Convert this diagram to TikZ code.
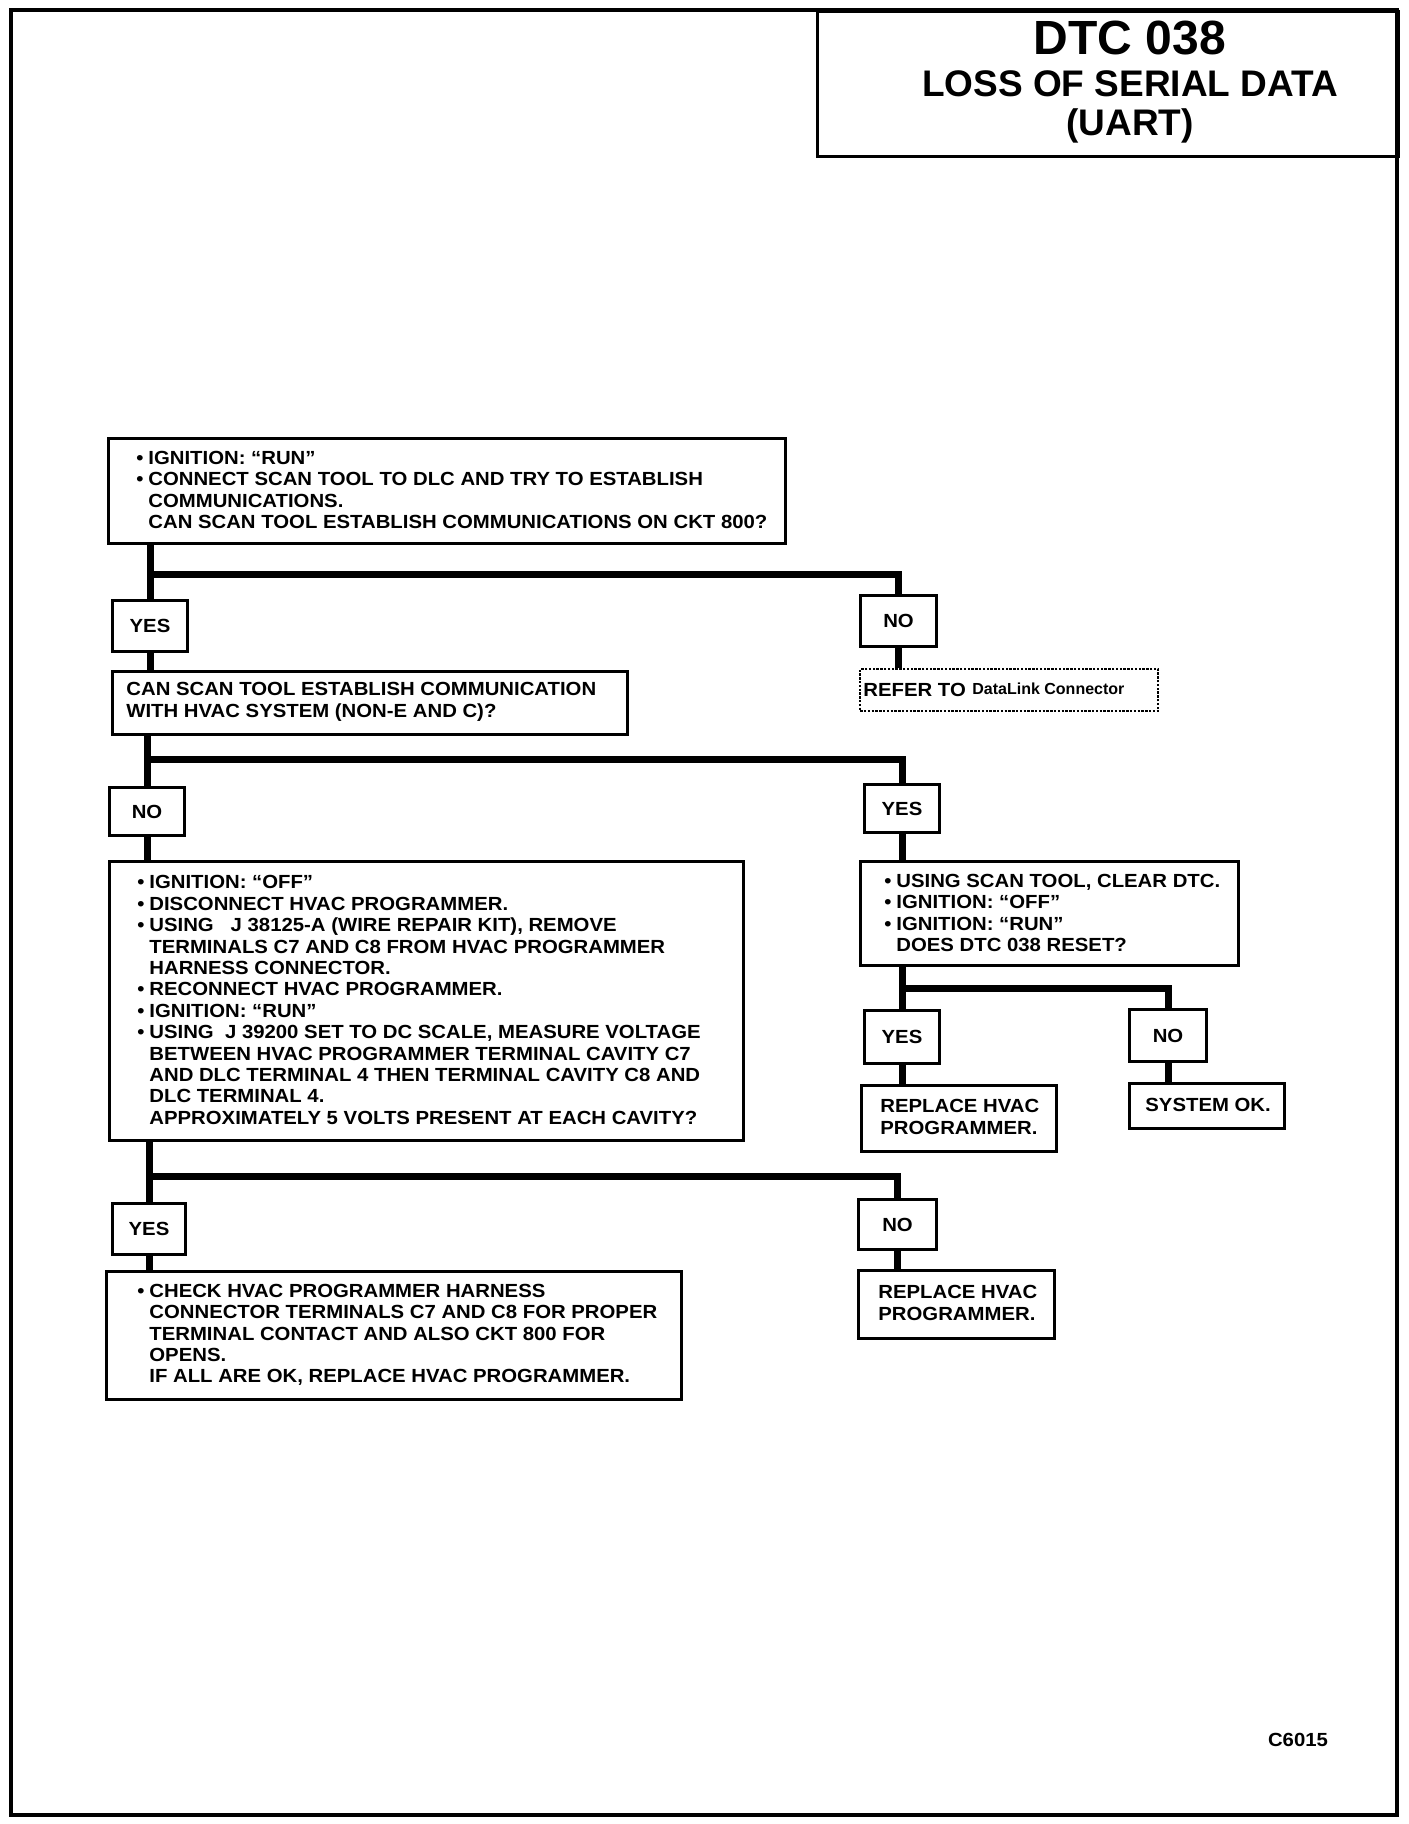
\documentclass[tikz,border=0pt]{standalone}
\usepackage{fontspec}
\setmainfont{Liberation Sans}
\newfontfamily\bfnt{Liberation Sans Bold}[FakeStretch=1.07]
\newcommand\bu{\llap{\makebox[6pt][l]{\textbullet}}}
\begin{document}
\begin{tikzpicture}[x=0.5pt,y=-0.5pt,
  box/.style={draw, line width=1.5pt, rectangle, inner sep=0pt, anchor=north west},
  lbl/.style={box, font=\bfnt\fontsize{9.5}{10.7}\selectfont},
  conn/.style={line width=3.5pt},
  txt/.style={anchor=west, inner sep=0pt, align=left, font=\bfnt\fontsize{9.5}{10.7}\selectfont},
  ttl/.style={anchor=base, inner sep=0pt, font=\bfseries\fontsize{#1}{#1}\selectfont},
]
\useasboundingbox (0,0) rectangle (1408,1824);
\draw[line width=2.2pt] (11,10) rectangle (1397,1815);

% title
\node[box, minimum width=290.5pt, minimum height=72.5pt] (title) at (816,10) {};
\node[ttl=24] (t1) at (1130,55) {DTC 038};
\node[ttl=18.5] (t2) at (1130,97) {LOSS OF SERIAL DATA};
\node[ttl=18.5] (t3) at (1130,136) {(UART)};

% box 1
\node[box, minimum width=338.5pt, minimum height=52.5pt] (q1) at (107,437) {};
\node[txt] (q1t) at (148,490) {\bu IGNITION: “RUN”\\
\bu CONNECT SCAN TOOL TO DLC AND TRY TO ESTABLISH\\
COMMUNICATIONS.\\
CAN SCAN TOOL ESTABLISH COMMUNICATIONS ON CKT 800?};

\node[lbl, minimum width=37.5pt, minimum height=25.5pt] (yes1) at (111,599) {YES};
\node[lbl, minimum width=38pt, minimum height=25.5pt] (no1) at (859,594) {NO};

% box 2
\node[box, minimum width=257.5pt, minimum height=31.5pt] (q2) at (111,670) {};
\node[txt] (q2t) at (126,702) {CAN SCAN TOOL ESTABLISH COMMUNICATION\\
WITH HVAC SYSTEM (NON-E AND C)?};

\node[box, line width=1.2pt, dash pattern=on 1.2pt off 0.7pt, minimum width=149pt, minimum height=21pt] (ref) at (859,668) {};
\node[txt] (reft) at (863,690) {REFER TO};
\node[anchor=west, inner sep=0pt, font=\bfseries\fontsize{8}{9}\selectfont] (refl) at (972,689) {DataLink Connector};

\node[lbl, minimum width=37.5pt, minimum height=24pt] (no2) at (108,786) {NO};
\node[lbl, minimum width=37.5pt, minimum height=24pt] (yes2) at (863,783) {YES};

% box 3
\node[box, minimum width=317pt, minimum height=139.5pt] (q3) at (108,860) {};
\node[txt] (q3t) at (149,1000) {\bu IGNITION: “OFF”\\
\bu DISCONNECT HVAC PROGRAMMER.\\
\bu USING \ \ J 38125-A (WIRE REPAIR KIT), REMOVE\\
TERMINALS C7 AND C8 FROM HVAC PROGRAMMER\\
HARNESS CONNECTOR.\\
\bu RECONNECT HVAC PROGRAMMER.\\
\bu IGNITION: “RUN”\\
\bu USING \ J 39200 SET TO DC SCALE, MEASURE VOLTAGE\\
BETWEEN HVAC PROGRAMMER TERMINAL CAVITY C7\\
AND DLC TERMINAL 4 THEN TERMINAL CAVITY C8 AND\\
DLC TERMINAL 4.\\
APPROXIMATELY 5 VOLTS PRESENT AT EACH CAVITY?};

% box 4
\node[box, minimum width=189pt, minimum height=52pt] (q4) at (859,860) {};
\node[txt] (q4t) at (896,913) {\bu USING SCAN TOOL, CLEAR DTC.\\
\bu IGNITION: “OFF”\\
\bu IGNITION: “RUN”\\
DOES DTC 038 RESET?};

\node[lbl, minimum width=37.5pt, minimum height=26.5pt] (yes3) at (863,1009) {YES};
\node[lbl, minimum width=38.5pt, minimum height=26pt] (no3) at (1128,1008) {NO};

\node[box, minimum width=97.5pt, minimum height=33pt] (r1) at (860,1084) {};
\node[txt] (r1t) at (880,1117) {REPLACE HVAC\\ PROGRAMMER.};
\node[box, minimum width=77.5pt, minimum height=22.5pt] (sysok) at (1128,1082) {};
\node[txt] (st) at (1145,1105) {SYSTEM OK.};

\node[lbl, minimum width=36.5pt, minimum height=25.5pt] (yes4) at (111,1202) {YES};
\node[lbl, minimum width=39pt, minimum height=25pt] (no4) at (857,1198) {NO};

% box 5
\node[box, minimum width=287.5pt, minimum height=64pt] (q5) at (105,1270) {};
\node[txt] (q5t) at (149,1335) {\bu CHECK HVAC PROGRAMMER HARNESS\\
CONNECTOR TERMINALS C7 AND C8 FOR PROPER\\
TERMINAL CONTACT AND ALSO CKT 800 FOR\\
OPENS.\\
IF ALL ARE OK, REPLACE HVAC PROGRAMMER.};

\node[box, minimum width=98pt, minimum height=34pt] (r2) at (857,1269) {};
\node[txt] (r2t) at (878,1303) {REPLACE HVAC\\ PROGRAMMER.};

\node[txt, anchor=center] (code) at (1298,1740) {C6015};

% connectors
\coordinate (j1) at (0,574);
\coordinate (j2) at (0,759);
\coordinate (j3) at (0,988);
\coordinate (j4) at (0,1176);
\draw[conn] (q1.south -| yes1.north) -- (yes1.north);
\draw[conn] (j1 -| yes1.north) -| (no1.north);
\draw[conn] (yes1.south) -- (yes1.south |- q2.north);
\draw[conn] (no1.south) -- (no1.south |- ref.north);
\draw[conn] (q2.south -| no2.north) -- (no2.north);
\draw[conn] (j2 -| no2.north) -| (yes2.north);
\draw[conn] (no2.south) -- (no2.south |- q3.north);
\draw[conn] (yes2.south) -- (yes2.south |- q4.north);
\draw[conn] (q4.south -| yes3.north) -- (yes3.north);
\draw[conn] (j3 -| yes3.north) -| (no3.north);
\draw[conn] (yes3.south) -- (yes3.south |- r1.north);
\draw[conn] (no3.south) -- (no3.south |- sysok.north);
\draw[conn] (q3.south -| yes4.north) -- (yes4.north);
\draw[conn] (j4 -| yes4.north) -| (no4.north);
\draw[conn] (yes4.south) -- (yes4.south |- q5.north);
\draw[conn] (no4.south) -- (no4.south |- r2.north);
\end{tikzpicture}
\end{document}
